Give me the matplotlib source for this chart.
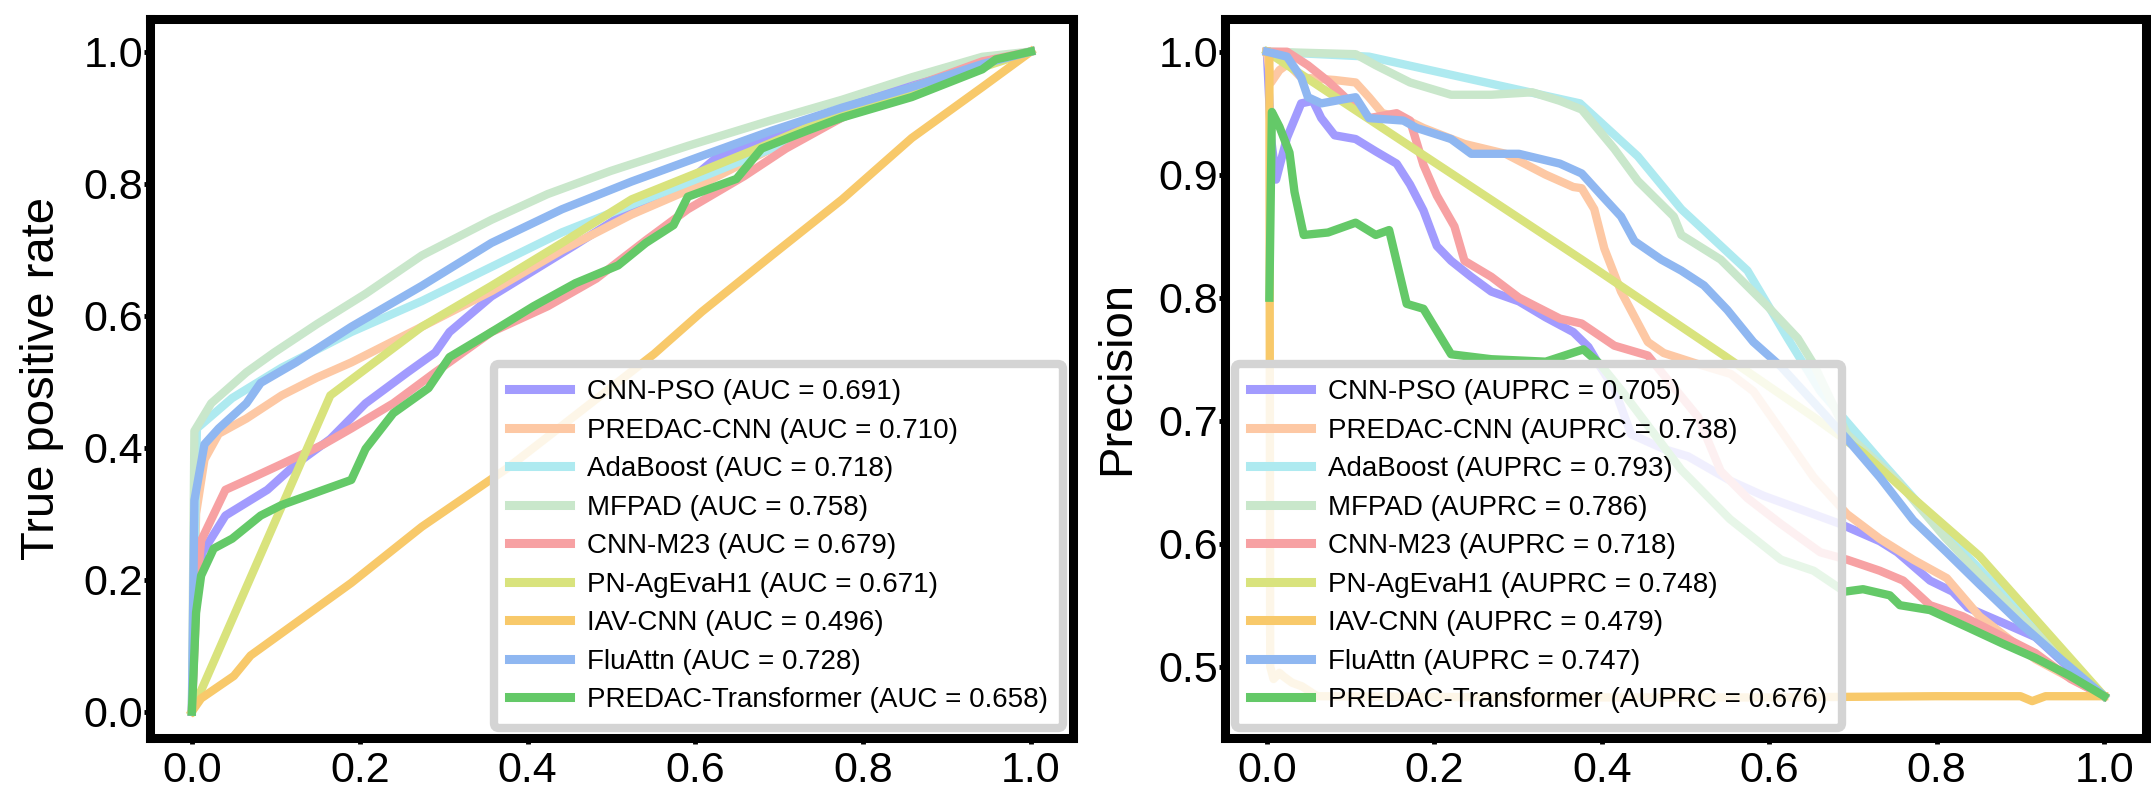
import matplotlib.pyplot as plt

plt.rcParams['font.family'] = ['Liberation Sans', 'DejaVu Sans']

# model names and scores
models = ['CNN-PSO', 'PREDAC-CNN', 'AdaBoost', 'MFPAD', 'CNN-M23',
          'PN-AgEvaH1', 'IAV-CNN', 'FluAttn', 'PREDAC-Transformer']
auc = [0.691, 0.710, 0.718, 0.758, 0.679, 0.671, 0.496, 0.728, 0.658]
auprc = [0.705, 0.738, 0.793, 0.786, 0.718, 0.748, 0.479, 0.747, 0.676]
colors = ['#a29bfe', '#fdc8a4', '#aeeaf0', '#c9e7cb', '#f7a1a3',
          '#d9e37d', '#f8c96a', '#8fb7f1', '#64c968']

# ROC curves (false positive rate, true positive rate)
cnnpso_fpr = [0, 0.005, 0.013, 0.04, 0.09, 0.124, 0.165, 0.207, 0.257, 0.29, 0.307, 0.357,
              0.407, 0.457, 0.524, 0.574, 0.624, 0.691, 0.775, 0.858, 0.942, 1.0]
cnnpso_tpr = [0, 0.189, 0.242, 0.297, 0.336, 0.375, 0.413, 0.467, 0.514, 0.544, 0.575, 0.629,
              0.668, 0.707, 0.761, 0.784, 0.838, 0.869, 0.915, 0.95, 0.981, 1.0]

predaccnn_fpr = [0, 0.005, 0.015, 0.032, 0.065, 0.107, 0.149, 0.19, 0.274, 0.357, 0.441,
                 0.524, 0.608, 0.691, 0.775, 0.858, 0.942, 1.0]
predaccnn_tpr = [0, 0.30, 0.382, 0.421, 0.444, 0.479, 0.506, 0.529, 0.583, 0.637, 0.699,
                 0.753, 0.799, 0.853, 0.9, 0.942, 0.985, 1.0]

adaboost_fpr = [0, 0.006, 0.048, 0.107, 0.19, 0.274, 0.441, 0.608, 0.691, 0.858, 1.0]
adaboost_tpr = [0, 0.429, 0.475, 0.521, 0.575, 0.622, 0.726, 0.81, 0.853, 0.946, 1.0]

mfpad_fpr = [0, 0.003, 0.023, 0.065, 0.098, 0.149, 0.207, 0.274, 0.357, 0.424, 0.499,
             0.591, 0.691, 0.775, 0.858, 0.942, 1.0]
mfpad_tpr = [0, 0.425, 0.467, 0.514, 0.544, 0.587, 0.633, 0.691, 0.745, 0.784, 0.819,
             0.857, 0.896, 0.927, 0.961, 0.992, 1.0]

cnnm23_fpr = [0, 0.006, 0.011, 0.04, 0.073, 0.107, 0.157, 0.19, 0.24, 0.29, 0.357, 0.424,
              0.482, 0.541, 0.591, 0.658, 0.708, 0.775, 0.858, 0.942, 1.0]
cnnm23_tpr = [0, 0.189, 0.259, 0.336, 0.355, 0.375, 0.405, 0.429, 0.467, 0.514, 0.575, 0.614,
              0.656, 0.714, 0.761, 0.811, 0.853, 0.9, 0.946, 0.985, 1.0]

pnag_fpr = [0, 0.165, 0.274, 0.357, 0.441, 0.524, 0.608, 0.674, 0.775, 1.0]
pnag_tpr = [0, 0.479, 0.583, 0.645, 0.71, 0.776, 0.819, 0.853, 0.907, 1.0]

iavcnn_fpr = [0, 0.011, 0.05, 0.07, 0.19, 0.274, 0.375, 0.441, 0.551, 0.608, 0.691, 0.775,
              0.858, 0.942, 1.0]
iavcnn_tpr = [0, 0.02, 0.054, 0.085, 0.195, 0.28, 0.368, 0.433, 0.542, 0.606, 0.691, 0.776,
              0.869, 0.946, 1.0]

fluattn_fpr = [0, 0.003, 0.015, 0.032, 0.065, 0.082, 0.124, 0.19, 0.274, 0.357, 0.441,
               0.524, 0.608, 0.691, 0.775, 0.858, 0.942, 1.0]
fluattn_tpr = [0, 0.32, 0.405, 0.429, 0.467, 0.498, 0.529, 0.583, 0.645, 0.71, 0.761,
               0.803, 0.842, 0.88, 0.915, 0.946, 0.981, 1.0]

transformer_fpr = [0, 0.005, 0.011, 0.026, 0.048, 0.082, 0.107, 0.157, 0.19, 0.207, 0.24,
                   0.282, 0.307, 0.357, 0.407, 0.457, 0.508, 0.541, 0.574, 0.591, 0.649,
                   0.679, 0.733, 0.775, 0.858, 0.942, 0.958, 1.0]
transformer_tpr = [0, 0.15, 0.206, 0.247, 0.262, 0.297, 0.313, 0.336, 0.351, 0.398, 0.452,
                   0.49, 0.537, 0.575, 0.614, 0.649, 0.676, 0.71, 0.737, 0.78, 0.807,
                   0.853, 0.88, 0.9, 0.931, 0.973, 0.988, 1.0]

# PR curves (recall, precision)
cnnpso_rec = [0, 0.005, 0.011, 0.024, 0.041, 0.055, 0.065, 0.081, 0.106, 0.13, 0.155, 0.171,
              0.187, 0.203, 0.22, 0.244, 0.268, 0.301, 0.333, 0.366, 0.384, 0.398, 0.415,
              0.435, 0.474, 0.503, 0.554, 0.593, 0.653, 0.685, 0.732, 0.753, 0.792, 0.819,
              0.837, 0.878, 0.918, 0.958, 1.0]
cnnpso_prec = [1.0, 0.93, 0.896, 0.93, 0.958, 0.96, 0.946, 0.932, 0.929, 0.919, 0.909, 0.892,
               0.871, 0.842, 0.83, 0.817, 0.805, 0.797, 0.784, 0.772, 0.76, 0.744, 0.726,
               0.689, 0.677, 0.671, 0.651, 0.639, 0.624, 0.616, 0.602, 0.593, 0.57, 0.561,
               0.548, 0.536, 0.524, 0.499, 0.476]

predaccnn_rec = [0, 0.005, 0.015, 0.025, 0.041, 0.081, 0.106, 0.122, 0.138, 0.163, 0.187,
                 0.236, 0.285, 0.333, 0.366, 0.376, 0.391, 0.403, 0.423, 0.455, 0.474, 0.515,
                 0.554, 0.581, 0.614, 0.653, 0.693, 0.732, 0.772, 0.812, 0.851, 0.918, 1.0]
predaccnn_prec = [1.0, 0.975, 0.985, 0.99, 0.979, 0.977, 0.975, 0.963, 0.95, 0.946, 0.938,
                  0.925, 0.917, 0.9, 0.89, 0.889, 0.872, 0.84, 0.805, 0.764, 0.755, 0.746,
                  0.738, 0.724, 0.692, 0.654, 0.624, 0.604, 0.587, 0.572, 0.541, 0.506, 0.476]

adaboost_rec = [0, 0.122, 0.374, 0.443, 0.495, 0.574, 0.622, 0.661, 0.732, 0.812, 0.9, 1.0]
adaboost_prec = [1.0, 0.996, 0.958, 0.915, 0.872, 0.822, 0.767, 0.724, 0.668, 0.607, 0.545,
                 0.476]

mfpad_rec = [0, 0.106, 0.13, 0.171, 0.22, 0.268, 0.317, 0.35, 0.376, 0.415, 0.443, 0.486,
             0.495, 0.542, 0.598, 0.634, 0.653, 0.693, 0.753, 0.81, 0.9, 1.0]
mfpad_prec = [1.0, 0.998, 0.989, 0.975, 0.965, 0.965, 0.967, 0.96, 0.953, 0.921, 0.895,
              0.866, 0.851, 0.831, 0.793, 0.767, 0.746, 0.689, 0.651, 0.605, 0.54, 0.476]

cnnm23_rec = [0, 0.024, 0.049, 0.073, 0.098, 0.122, 0.155, 0.171, 0.187, 0.203, 0.224,
              0.236, 0.268, 0.301, 0.35, 0.376, 0.415, 0.455, 0.515, 0.542, 0.574, 0.614,
              0.661, 0.693, 0.732, 0.76, 0.792, 0.831, 0.918, 0.96, 1.0]
cnnm23_prec = [1.0, 1.0, 0.989, 0.976, 0.96, 0.946, 0.95, 0.944, 0.908, 0.883, 0.858,
               0.83, 0.817, 0.8, 0.783, 0.779, 0.761, 0.753, 0.703, 0.659, 0.637, 0.616,
               0.593, 0.587, 0.578, 0.57, 0.55, 0.541, 0.511, 0.49, 0.476]

pnag_rec = [0, 0.376, 0.546, 0.653, 0.712, 0.772, 0.851, 1.0]
pnag_prec = [1.0, 0.831, 0.753, 0.703, 0.674, 0.637, 0.59, 0.476]

iavcnn_rec = [0, 0.003, 0.004, 0.008, 0.015, 0.02, 0.03, 0.042, 0.06, 0.3, 0.6, 0.8, 0.9,
              0.914, 0.93, 1.0]
iavcnn_prec = [1.0, 1.0, 0.50, 0.49, 0.495, 0.492, 0.487, 0.484, 0.476, 0.475, 0.475,
               0.476, 0.476, 0.472, 0.476, 0.476]

fluattn_rec = [0, 0.024, 0.041, 0.049, 0.065, 0.089, 0.106, 0.122, 0.163, 0.179, 0.22,
               0.244, 0.301, 0.35, 0.376, 0.4, 0.423, 0.439, 0.471, 0.495, 0.522, 0.55,
               0.581, 0.614, 0.653, 0.693, 0.732, 0.772, 0.812, 0.851, 0.9, 0.95, 1.0]
fluattn_prec = [1.0, 0.996, 0.979, 0.963, 0.958, 0.961, 0.963, 0.946, 0.944, 0.938, 0.929,
                0.917, 0.917, 0.909, 0.901, 0.883, 0.866, 0.846, 0.831, 0.822, 0.81, 0.79,
                0.764, 0.744, 0.715, 0.685, 0.654, 0.619, 0.593, 0.567, 0.535, 0.505, 0.476]

transformer_rec = [0.003, 0.006, 0.015, 0.027, 0.033, 0.044, 0.073, 0.106, 0.13, 0.146,
                   0.167, 0.187, 0.22, 0.268, 0.333, 0.378, 0.398, 0.423, 0.495, 0.553,
                   0.614, 0.653, 0.69, 0.712, 0.744, 0.756, 0.792, 0.837, 0.878, 0.918,
                   0.958, 1.0]
transformer_prec = [0.80, 0.951, 0.939, 0.918, 0.886, 0.851, 0.853, 0.861, 0.851, 0.855,
                    0.795, 0.791, 0.754, 0.75, 0.748, 0.758, 0.746, 0.725, 0.66, 0.62,
                    0.587, 0.578, 0.561, 0.563, 0.558, 0.55, 0.546, 0.532, 0.519, 0.507,
                    0.493, 0.476]

roc_x = [cnnpso_fpr, predaccnn_fpr, adaboost_fpr, mfpad_fpr, cnnm23_fpr, pnag_fpr,
         iavcnn_fpr, fluattn_fpr, transformer_fpr]
roc_y = [cnnpso_tpr, predaccnn_tpr, adaboost_tpr, mfpad_tpr, cnnm23_tpr, pnag_tpr,
         iavcnn_tpr, fluattn_tpr, transformer_tpr]
pr_x = [cnnpso_rec, predaccnn_rec, adaboost_rec, mfpad_rec, cnnm23_rec, pnag_rec,
        iavcnn_rec, fluattn_rec, transformer_rec]
pr_y = [cnnpso_prec, predaccnn_prec, adaboost_prec, mfpad_prec, cnnm23_prec, pnag_prec,
        iavcnn_prec, fluattn_prec, transformer_prec]


def style_axes(ax):
    for sp in ax.spines.values():
        sp.set_linewidth(6.5)
        sp.set_color('black')
    ax.tick_params(axis='both', labelsize=31, length=4, width=3.5)
    ax.tick_params(axis='y', pad=1)
    ax.tick_params(axis='x', pad=5)


def add_legend(ax, loc):
    leg = ax.legend(loc=loc, fontsize=20, handlelength=2.2, handletextpad=0.6,
                    labelspacing=0.45, borderpad=0.55, borderaxespad=0.35,
                    fancybox=True)
    frame = leg.get_frame()
    frame.set_alpha(None)
    frame.set_facecolor((1, 1, 1, 0.85))
    frame.set_edgecolor('#d4d4d4')
    frame.set_linewidth(6)
    for line in leg.get_lines():
        line.set_linewidth(6.5)
        line.set_alpha(1)
    return leg


fig = plt.figure(figsize=(21.51, 7.94), dpi=100)

# ROC
ax1 = fig.add_axes([0.0697, 0.0705, 0.4291, 0.9062])
for i in range(len(models)):
    ax1.plot(roc_x[i], roc_y[i], color=colors[i], lw=6,
             label='%s (AUC = %.3f)' % (models[i], auc[i]))
ax1.set_xticks([0.0, 0.2, 0.4, 0.6, 0.8, 1.0])
ax1.set_yticks([0.0, 0.2, 0.4, 0.6, 0.8, 1.0])
ax1.set_xlim(-0.05, 1.05)
ax1.set_ylim(-0.04, 1.05)
ax1.set_ylabel('True positive rate', fontsize=34, labelpad=14)
style_axes(ax1)
add_legend(ax1, 'lower right')

# PR
ax2 = fig.add_axes([0.5695, 0.0705, 0.4282, 0.9062])
for i in range(len(models)):
    ax2.plot(pr_x[i], pr_y[i], color=colors[i], lw=6,
             label='%s (AUPRC = %.3f)' % (models[i], auprc[i]))
ax2.set_xticks([0.0, 0.2, 0.4, 0.6, 0.8, 1.0])
ax2.set_yticks([0.5, 0.6, 0.7, 0.8, 0.9, 1.0])
ax2.set_xlim(-0.05, 1.05)
ax2.set_ylim(0.442, 1.027)
ax2.set_ylabel('Precision', fontsize=34, labelpad=14)
style_axes(ax2)
add_legend(ax2, 'lower left')

fig.savefig('out.png', dpi=100)
